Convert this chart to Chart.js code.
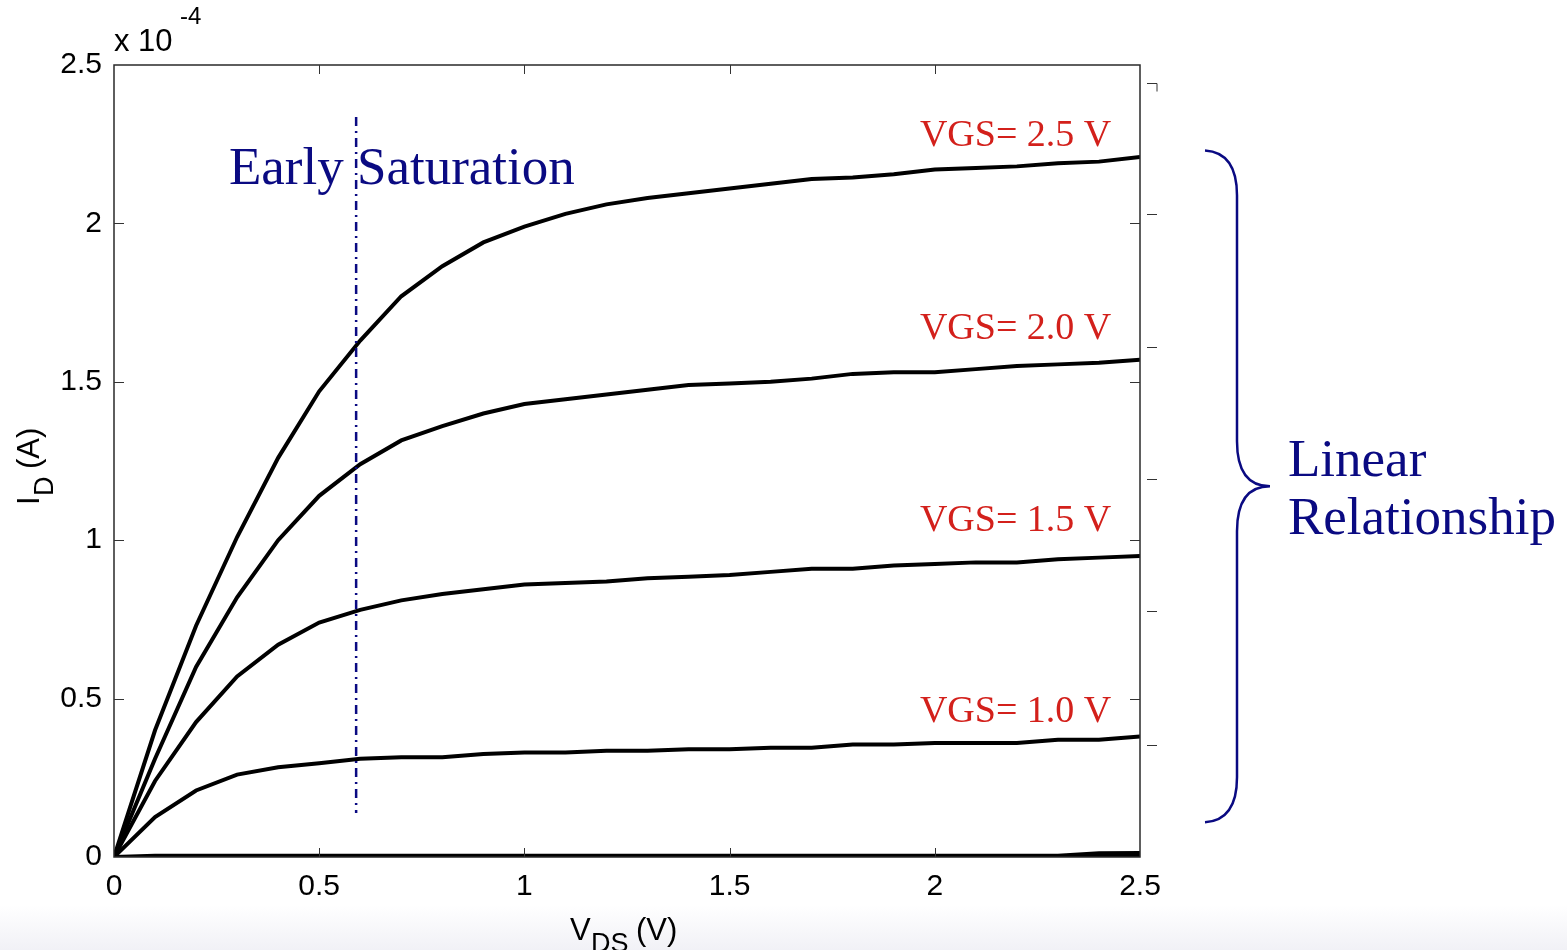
<!DOCTYPE html>
<html>
<head>
<meta charset="utf-8">
<script src="https://cdn.jsdelivr.net/npm/chart.js@4/dist/chart.umd.min.js"></script>
<style>
  html, body { margin: 0; padding: 0; }
  body {
    width: 1567px; height: 950px; overflow: hidden;
    background: linear-gradient(to bottom, #ffffff 0px, #ffffff 905px, #f1f1f6 950px);
  }
  #wrap { position: relative; width: 1567px; height: 950px; }
</style>
</head>
<body>
<div id="wrap"><canvas id="ivChart" width="1567" height="950"></canvas></div>
<script>
// V_DS sweep (V)
const vds = [0, 0.1, 0.2, 0.3, 0.4, 0.5, 0.6, 0.7, 0.8, 0.9, 1.0, 1.1, 1.2,
  1.3, 1.4, 1.5, 1.6, 1.7, 1.8, 1.9, 2.0, 2.1, 2.2, 2.3, 2.4, 2.5];

// I_D in units of 1e-4 A
const id25 = [0, 0.40, 0.73, 1.01, 1.26, 1.47, 1.63, 1.77, 1.865, 1.94, 1.99, 2.03, 2.06,
  2.08, 2.095, 2.11, 2.125, 2.14, 2.145, 2.155, 2.17, 2.175, 2.18, 2.19, 2.195, 2.21];
const id20 = [0, 0.31, 0.60, 0.82, 1.00, 1.14, 1.24, 1.315, 1.36, 1.40, 1.43, 1.445, 1.46,
  1.475, 1.49, 1.495, 1.50, 1.51, 1.525, 1.53, 1.53, 1.54, 1.55, 1.555, 1.56, 1.57];
const id15 = [0, 0.24, 0.426, 0.57, 0.67, 0.74, 0.78, 0.81, 0.83, 0.845, 0.86, 0.865, 0.87,
  0.88, 0.885, 0.89, 0.90, 0.91, 0.91, 0.92, 0.925, 0.93, 0.93, 0.94, 0.945, 0.95];
const id10 = [0, 0.126, 0.21, 0.26, 0.283, 0.296, 0.31, 0.315, 0.315, 0.325, 0.33, 0.33, 0.335,
  0.335, 0.34, 0.34, 0.345, 0.345, 0.355, 0.355, 0.36, 0.36, 0.36, 0.37, 0.37, 0.38];
const id05 = [0, 0.004, 0.004, 0.004, 0.004, 0.004, 0.004, 0.004, 0.004, 0.004, 0.004, 0.004, 0.004,
  0.004, 0.004, 0.004, 0.004, 0.004, 0.004, 0.004, 0.004, 0.004, 0.004, 0.004, 0.012, 0.013];
const id00 = [0, 0, 0, 0, 0, 0, 0, 0, 0, 0, 0, 0, 0,
  0, 0, 0, 0, 0, 0, 0, 0, 0, 0, 0, 0, 0];

const xTicks = [0, 0.5, 1, 1.5, 2, 2.5];
const xTickLabels = ['0', '0.5', '1', '1.5', '2', '2.5'];
const yTicks = [0, 0.5, 1, 1.5, 2, 2.5];
const yTickLabels = ['0', '0.5', '1', '1.5', '2', '2.5'];

// curve labels: text, y position (1e-4 A) of baseline
const curveLabels = ['VGS= 2.5 V', 'VGS= 2.0 V', 'VGS= 1.5 V', 'VGS= 1.0 V'];
const curveLabelY = [2.245, 1.635, 1.03, 0.425];

// stray ticks right of the frame (as in the source picture)
const strayTicksY = [2.443, 2.03, 1.61, 1.193, 0.777, 0.354];

const saturationV = 0.59;
const saturationSpan = [0.139, 2.336];

const NAVY = '#0a0a82';
const RED = '#d3201b';
const SANS = '"Liberation Sans", Arial, sans-serif';
const SERIF = '"Liberation Serif", serif';

function series(ys) {
  return ys.map((y, i) => ({ x: vds[i], y }));
}

const decorations = {
  id: 'decorations',
  afterDatasetsDraw(chart) {
    const { ctx, chartArea: a, scales: { x, y } } = chart;
    ctx.save();

    // frame
    ctx.strokeStyle = '#2a2a2a';
    ctx.lineWidth = 1.5;
    ctx.strokeRect(a.left, a.top, a.right - a.left, a.bottom - a.top);

    // inward ticks on all four sides
    ctx.lineWidth = 1;
    ctx.strokeStyle = '#333';
    ctx.beginPath();
    xTicks.slice(1, -1).forEach(v => {
      const px = Math.round(x.getPixelForValue(v)) + 0.5;
      ctx.moveTo(px, a.bottom); ctx.lineTo(px, a.bottom - 9);
      ctx.moveTo(px, a.top); ctx.lineTo(px, a.top + 9);
    });
    yTicks.slice(1, -1).forEach(v => {
      const py = Math.round(y.getPixelForValue(v)) + 0.5;
      ctx.moveTo(a.left, py); ctx.lineTo(a.left + 10, py);
      ctx.moveTo(a.right, py); ctx.lineTo(a.right - 10, py);
    });
    // stray outer ticks
    strayTicksY.forEach((v, i) => {
      const py = Math.round(y.getPixelForValue(v)) + 0.5;
      ctx.moveTo(a.right + 7, py); ctx.lineTo(a.right + 17, py);
      if (i === 0) ctx.lineTo(a.right + 17, py + 8);
    });
    ctx.stroke();

    // early saturation dash-dot marker
    ctx.strokeStyle = NAVY;
    ctx.lineWidth = 2.5;
    ctx.setLineDash([9, 5, 2, 5]);
    ctx.beginPath();
    const sx = x.getPixelForValue(saturationV);
    ctx.moveTo(sx, y.getPixelForValue(saturationSpan[1]));
    ctx.lineTo(sx, y.getPixelForValue(saturationSpan[0]));
    ctx.stroke();
    ctx.setLineDash([]);

    // texts
    ctx.fillStyle = NAVY;
    ctx.font = '53px ' + SERIF;
    ctx.textAlign = 'left';
    ctx.textBaseline = 'alphabetic';
    ctx.fillText('Early Saturation', x.getPixelForValue(0.28), y.getPixelForValue(2.125));

    ctx.fillStyle = RED;
    ctx.font = '38px ' + SERIF;
    ctx.textAlign = 'right';
    curveLabels.forEach((t, i) => {
      ctx.fillText(t, x.getPixelForValue(2.43), y.getPixelForValue(curveLabelY[i]));
    });

    // brace
    const top = y.getPixelForValue(2.23), bot = y.getPixelForValue(0.11);
    const mid = (top + bot) / 2;
    const bx0 = a.right + 65, bx1 = a.right + 97, bx2 = a.right + 130;
    ctx.strokeStyle = NAVY;
    ctx.lineWidth = 2.5;
    ctx.beginPath();
    ctx.moveTo(bx0, top);
    ctx.quadraticCurveTo(bx1, top + 2, bx1, top + 45);
    ctx.lineTo(bx1, mid - 45);
    ctx.quadraticCurveTo(bx1, mid, bx2, mid);
    ctx.quadraticCurveTo(bx1, mid, bx1, mid + 45);
    ctx.lineTo(bx1, bot - 45);
    ctx.quadraticCurveTo(bx1, bot - 2, bx0, bot);
    ctx.stroke();

    ctx.fillStyle = NAVY;
    ctx.font = '53px ' + SERIF;
    ctx.textAlign = 'left';
    ctx.fillText('Linear', a.right + 148, mid - 10);
    ctx.fillText('Relationship', a.right + 148, mid + 48);

    // exponent
    ctx.fillStyle = '#000';
    ctx.font = '31px ' + SANS;
    ctx.fillText('x 10', a.left, a.top - 14);
    ctx.font = '24px ' + SANS;
    ctx.fillText('-4', a.left + 66, a.top - 41);

    // x axis title: V_DS (V)
    const xt = (a.left + a.right) / 2;
    ctx.font = '31px ' + SANS;
    ctx.fillText('V', xt - 57, 940);
    ctx.font = '27px ' + SANS;
    ctx.fillText('DS', xt - 36, 952);
    ctx.font = '31px ' + SANS;
    ctx.fillText('(V)', xt + 9, 940);

    // y axis title: I_D (A)
    ctx.translate(39, (a.top + a.bottom) / 2);
    ctx.rotate(-Math.PI / 2);
    ctx.font = '31px ' + SANS;
    ctx.fillText('I', -44, 0);
    ctx.font = '27px ' + SANS;
    ctx.fillText('D', -35, 14);
    ctx.font = '31px ' + SANS;
    ctx.fillText('(A)', -8, 0);

    ctx.restore();
  }
};

const lineStyle = {
  borderColor: '#000',
  borderWidth: 4,
  pointRadius: 0,
  tension: 0,
  fill: false
};

const tickFont = { family: SANS, size: 30 };

new Chart(document.getElementById('ivChart'), {
  type: 'line',
  data: {
    datasets: [
      { label: 'VGS=2.5', data: series(id25), ...lineStyle },
      { label: 'VGS=2.0', data: series(id20), ...lineStyle },
      { label: 'VGS=1.5', data: series(id15), ...lineStyle },
      { label: 'VGS=1.0', data: series(id10), ...lineStyle },
      { label: 'VGS=0.5', data: series(id05), ...lineStyle },
      { label: 'VGS=0.0', data: series(id00), ...lineStyle }
    ]
  },
  options: {
    responsive: false,
    animation: false,
    layout: { padding: { left: 0, top: 65, right: 427, bottom: 0 } },
    plugins: { legend: { display: false }, tooltip: { enabled: false } },
    scales: {
      x: {
        type: 'linear',
        min: 0,
        max: 2.5,
        afterBuildTicks: (s) => { s.ticks = xTicks.map(v => ({ value: v })); },
        afterFit: (s) => { s.height = 93; },
        grid: { display: true, drawOnChartArea: false, drawTicks: false },
        border: { display: false },
        ticks: {
          font: tickFont, color: '#000', padding: 12, maxRotation: 0,
          callback: (v, i) => xTickLabels[i]
        }
      },
      y: {
        min: 0,
        max: 2.5,
        afterBuildTicks: (s) => { s.ticks = yTicks.map(v => ({ value: v })); },
        afterFit: (s) => { s.width = 114; },
        grid: { display: true, drawOnChartArea: false, drawTicks: false },
        border: { display: false },
        ticks: {
          font: tickFont, color: '#000', padding: 12,
          callback: (v, i) => yTickLabels[i]
        }
      }
    }
  },
  plugins: [decorations]
});
</script>
</body>
</html>
